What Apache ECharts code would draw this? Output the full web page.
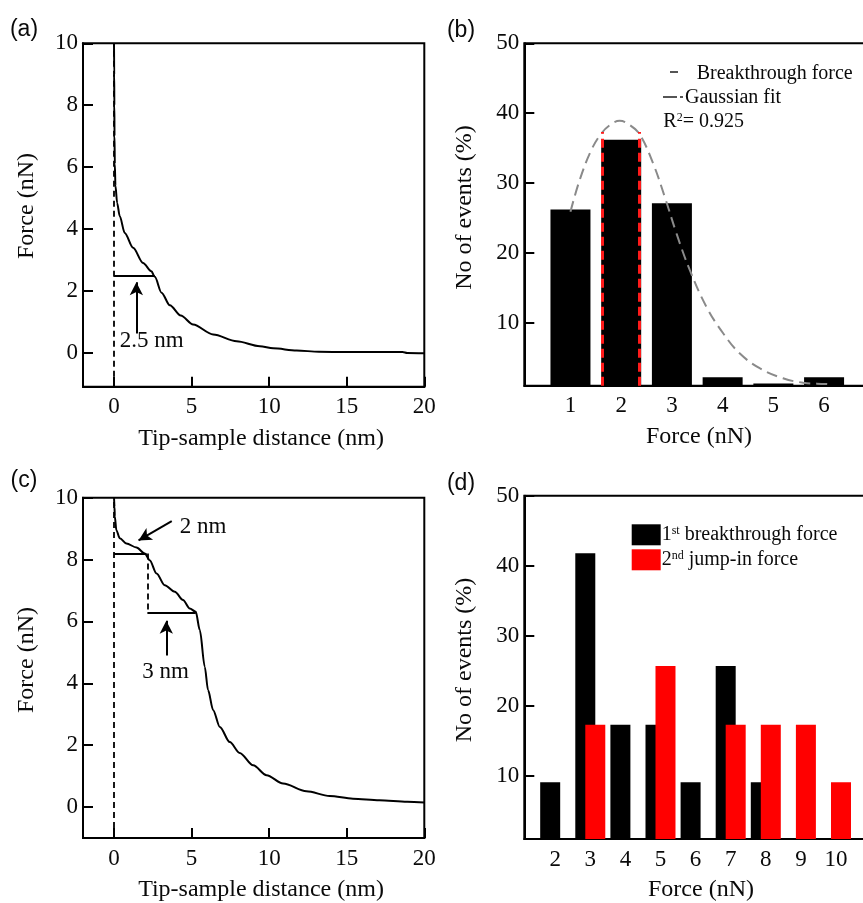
<!DOCTYPE html>
<html><head><meta charset="utf-8">
<script src="https://cdn.jsdelivr.net/npm/echarts@6/dist/echarts.min.js"></script>
<style>html,body{margin:0;padding:0;background:#fff}#c{width:863px;height:903px}</style>
</head><body><div id="c"></div>
<script>
const SERIF = '"Liberation Serif", "Times New Roman", serif';
const SANS = '"Liberation Sans", Arial, sans-serif';
const INK = '#0a0a0a';

// ---- (a) force curve ----
const aDist  = [0.00, 0.01, 0.02, 0.03, 0.05, 0.09, 0.20, 0.37, 0.69, 1.23, 1.87, 2.41, 2.63, 3.06, 3.60, 4.30, 5.10, 6.39, 7.90, 9.40, 10.26, 11.77, 13.2, 15.0, 18.6, 18.9, 20.0];
const aForce = [10.0, 9.0, 8.0, 7.0, 6.1, 5.4, 4.84, 4.41, 3.87, 3.39, 2.90, 2.63, 2.45, 1.94, 1.53, 1.20, 0.91, 0.59, 0.37, 0.21, 0.14, 0.07, 0.03, 0.02, 0.02, -0.01, -0.02];
// ---- (c) force curve ----
const cDist  = [0.00, 0.03, 0.05, 0.15, 0.37, 0.80, 1.45, 1.98, 2.30, 2.74, 3.27, 3.92, 4.45, 4.88, 5.27, 5.53, 5.85, 6.06, 6.39, 6.82, 7.46, 8.10, 8.97, 9.83, 10.9, 12.4, 13.9, 15.4, 17.1, 18.9, 20.0];
const cForce = [10.0, 9.70, 9.39, 8.95, 8.69, 8.52, 8.39, 8.20, 7.98, 7.55, 7.17, 6.96, 6.69, 6.42, 6.31, 5.72, 4.53, 3.78, 3.13, 2.59, 2.10, 1.75, 1.35, 1.03, 0.76, 0.51, 0.36, 0.27, 0.22, 0.17, 0.15];
// ---- (b) histogram ----
const bForce  = [1, 2, 3, 4, 5, 6];
const bEvents = [26.2, 36.2, 27.1, 2.2, 1.3, 2.2];
const gaussX = [1.00, 1.18, 1.41, 1.61, 1.78, 1.97, 2.17, 2.37, 2.63, 2.86, 3.09, 3.35, 3.68, 4.01, 4.34, 4.73, 5.19, 5.59, 6.02, 6.10];
const gaussY = [25.9, 30.4, 34.7, 37.1, 38.3, 38.9, 38.3, 36.9, 32.8, 28.0, 22.8, 17.6, 12.3, 8.5, 5.6, 3.5, 2.06, 1.43, 1.25, 1.2];
const bBreakX = [1.63, 2.35];
const bBreakTop = 37.3;
// ---- (d) histogram ----
const dForce  = [2, 3, 4, 5, 6, 7, 8, 9, 10];
const dFirst  = [9.1, 41.8, 17.3, 17.3, 9.1, 25.7, 9.1, null, null];
const dSecond = [null, 17.3, null, 25.7, null, 17.3, 17.3, 17.3, 9.1];
// ---- tick labels ----
const distTicks  = [0, 5, 10, 15, 20];
const forceTicks = [0, 2, 4, 6, 8, 10];
const pctTicks   = [10, 20, 30, 40, 50];
const bTicks = [1, 2, 3, 4, 5, 6];
const dTicks = [2, 3, 4, 5, 6, 7, 8, 9, 10];

const zip = (xs, ys) => xs.map((x, i) => [x, ys[i]]);

function xAx(gi, min, max, ticks, showTicks) {
  return {
    type: 'value', gridIndex: gi, min: min, max: max,
    axisLine: { onZero: false, lineStyle: { color: '#000', width: 2 } },
    axisTick: { show: showTicks, inside: true, length: 10, customValues: ticks, lineStyle: { color: '#000', width: 2 } },
    axisLabel: { customValues: ticks, margin: 9, color: INK, fontFamily: SERIF, fontSize: 23 },
    splitLine: { show: false }
  };
}
function yAx(gi, min, max, ticks) {
  return {
    type: 'value', gridIndex: gi, min: min, max: max,
    axisLine: { onZero: false, lineStyle: { color: '#000', width: 2 } },
    axisTick: { show: true, inside: true, length: 10, customValues: ticks, lineStyle: { color: '#000', width: 2 } },
    axisLabel: { customValues: ticks, margin: 5, color: INK, fontFamily: SERIF, fontSize: 23 },
    splitLine: { show: false }
  };
}
const gridBase = { show: true, borderColor: '#000', borderWidth: 2, backgroundColor: 'transparent', containLabel: false, outerBoundsMode: 'none' };

const dashBlack = { color: '#000', width: 1.8, type: [6, 4] };
const solidBlack = { color: '#000', width: 2, type: 'solid' };
function seg(x1, y1, x2, y2, ls) {
  return [{ coord: [x1, y1], symbol: 'none', lineStyle: ls }, { coord: [x2, y2], symbol: 'none', lineStyle: ls }];
}
function arrow(x1, y1, x2, y2) {
  return [{ coord: [x1, y1], symbol: 'none', lineStyle: solidBlack }, { coord: [x2, y2], symbol: 'arrow', symbolSize: [10, 13], lineStyle: solidBlack }];
}
const mlBase = { silent: true, animation: false, symbol: ['none', 'none'], label: { show: false }, emphasis: { disabled: true } };

const chart = echarts.init(document.getElementById('c'), null, { renderer: 'canvas' });

const option = {
  animation: false,
  backgroundColor: '#fff',
  grid: [
    Object.assign({ left: 83, top: 43.3, width: 341.3, height: 343.4 }, gridBase),
    Object.assign({ left: 524.3, top: 43.3, width: 350.5, height: 342.4 }, gridBase),
    Object.assign({ left: 83, top: 497.7, width: 341.3, height: 340.3 }, gridBase),
    Object.assign({ left: 524.3, top: 495.7, width: 346.8, height: 343.3 }, gridBase)
  ],
  xAxis: [
    xAx(0, -2, 20, distTicks, true),
    xAx(1, 0.09, 7, bTicks, false),
    xAx(2, -2, 20, distTicks, true),
    xAx(3, 1.12, 11, dTicks, false)
  ],
  yAxis: [
    yAx(0, -1.1, 10, forceTicks),
    yAx(1, 1, 50, pctTicks),
    yAx(2, -1, 10, forceTicks),
    yAx(3, 1, 50, pctTicks)
  ],
  legend: [{
    data: ['1st breakthrough force', '2nd jump-in force'],
    orient: 'vertical', left: 626.7, top: 519.3,
    itemWidth: 29, itemHeight: 21, itemGap: 4, icon: 'rect',
    selectedMode: false,
    formatter: function (n) { return n.charAt(0) + '{sup|' + n.substr(1, 2) + '}' + n.substr(3); },
    textStyle: { fontFamily: SERIF, fontSize: 20, color: INK, padding: [0, 0, 0, -4],
      rich: { sup: { fontFamily: SERIF, fontSize: 12, color: INK, verticalAlign: 'top', lineHeight: 14 } } }
  }],
  series: [
    { type: 'line', name: 'curveA', xAxisIndex: 0, yAxisIndex: 0, data: zip(aDist, aForce),
      symbol: 'none', smooth: 0.3, smoothMonotone: 'x', lineStyle: { color: '#000', width: 2 }, z: 3,
      markLine: Object.assign({ data: [
        seg(0, -1.1, 0, 10, dashBlack),
        seg(0, 2.48, 2.63, 2.48, solidBlack),
        arrow(1.44, 0.62, 1.44, 2.28)
      ] }, mlBase) },
    { type: 'bar', name: 'bBars', xAxisIndex: 1, yAxisIndex: 1, data: zip(bForce, bEvents),
      barWidth: 40, itemStyle: { color: '#000' }, z: 2,
      markLine: Object.assign({ data: bBreakX.map(x => seg(x, 1, x, bBreakTop, { color: '#ff1a1a', width: 3, type: [9, 5] })) }, mlBase) },
    { type: 'line', name: 'gauss', xAxisIndex: 1, yAxisIndex: 1, data: zip(gaussX, gaussY),
      symbol: 'none', smooth: 0.4, lineStyle: { color: '#8a8a8a', width: 2, type: [11, 6] }, z: 4 },
    { type: 'line', name: 'curveC', xAxisIndex: 2, yAxisIndex: 2, data: zip(cDist, cForce),
      symbol: 'none', smooth: 0.3, smoothMonotone: 'x', lineStyle: { color: '#000', width: 2 }, z: 3,
      markLine: Object.assign({ data: [
        seg(0, -1, 0, 10, dashBlack),
        seg(0, 8.2, 2.1, 8.2, solidBlack),
        seg(2.15, 8.2, 2.15, 6.28, dashBlack),
        seg(2.15, 6.28, 5.27, 6.28, solidBlack),
        arrow(3.37, 4.9, 3.37, 6.02),
        arrow(3.72, 9.24, 1.58, 8.62)
      ] }, mlBase) },
    { type: 'bar', name: '1st breakthrough force', xAxisIndex: 3, yAxisIndex: 3, data: zip(dForce, dFirst),
      barWidth: 20, barGap: '-50%', itemStyle: { color: '#000' } },
    { type: 'bar', name: '2nd jump-in force', xAxisIndex: 3, yAxisIndex: 3, data: zip(dForce, dSecond),
      barWidth: 20, barGap: '-50%', itemStyle: { color: '#ff0000' } }
  ]
};
chart.setOption(option);

function txt(x, y, text, opt) {
  opt = opt || {};
  return { type: 'text', x: x, y: y, rotation: opt.rot || 0, silent: true, z: 100,
    style: { text: text, fontFamily: opt.font || SERIF, fontSize: opt.size || 24, fill: INK,
      align: opt.align || 'center', verticalAlign: 'middle', rich: opt.rich } };
}
function p(gi, x, y) { return chart.convertToPixel({ gridIndex: gi }, [x, y]); }

const pa = p(0, 0.37, 0.37), pc3 = p(2, 3.32, 4.37), pc2 = p(2, 4.24, 9.06);
const graphics = [
  txt(24, 30, '(a)', { font: SANS, size: 23 }),
  txt(461, 31, '(b)', { font: SANS, size: 23 }),
  txt(24, 481, '(c)', { font: SANS, size: 23 }),
  txt(461, 484, '(d)', { font: SANS, size: 23 }),
  txt(261, 439, 'Tip-sample distance (nm)'),
  txt(261, 890, 'Tip-sample distance (nm)'),
  txt(699, 437, 'Force (nN)'),
  txt(701, 890, 'Force (nN)'),
  txt(26.7, 206, 'Force (nN)', { rot: Math.PI / 2 }),
  txt(26.7, 660, 'Force (nN)', { rot: Math.PI / 2 }),
  txt(465, 207.5, 'No of events (%)', { rot: Math.PI / 2 }),
  txt(465, 660, 'No of events (%)', { rot: Math.PI / 2 }),
  txt(pa[0], pa[1], '2.5 nm', { align: 'left', size: 23 }),
  txt(pc3[0], pc3[1], '3 nm', { size: 23 }),
  txt(pc2[0], pc2[1], '2 nm', { align: 'left', size: 23 }),
  // (b) legend
  { type: 'line', silent: true, shape: { x1: 670, y1: 72, x2: 678, y2: 72 }, style: { stroke: '#555', lineWidth: 2 } },
  txt(696.7, 73.3, 'Breakthrough force', { align: 'left', size: 20 }),
  { type: 'line', silent: true, shape: { x1: 663, y1: 97, x2: 677, y2: 97 }, style: { stroke: '#555', lineWidth: 2 } },
  { type: 'line', silent: true, shape: { x1: 680, y1: 97, x2: 683, y2: 97 }, style: { stroke: '#555', lineWidth: 2 } },
  txt(685, 98, 'Gaussian fit', { align: 'left', size: 20 }),
  txt(663.3, 121.7, 'R{sup|2}= 0.925', { align: 'left', size: 20,
    rich: { sup: { fontFamily: SERIF, fontSize: 12, fill: INK, verticalAlign: 'top', lineHeight: 14 } } })
];
chart.setOption({ graphic: graphics });
</script></body></html>
